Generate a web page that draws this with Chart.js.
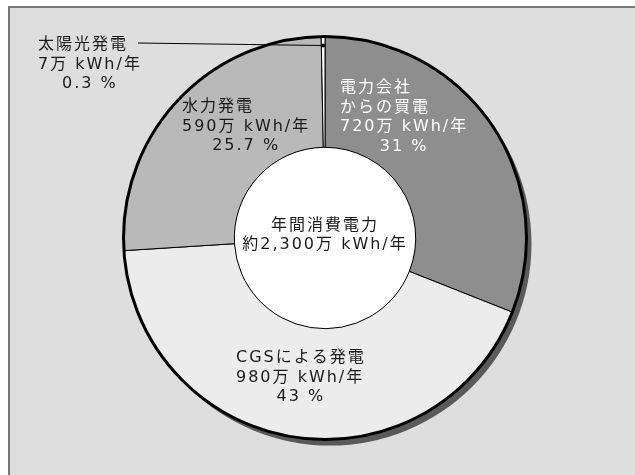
<!DOCTYPE html>
<html lang="ja">
<head>
    <meta charset="UTF-8">
    <title>年間消費電力の内訳</title>
    <style>
        body {
            margin: 0;
            background: #fff;
            overflow: hidden;
        }
        .frame {
            position: absolute;
            left: 8px;
            top: 6px;
            width: 700px;
            height: 540px;
            background: #dedede;
            border-left: 2px solid #777;
            border-top: 2px solid #777;
        }
        #chart {
            position: absolute;
            left: 0;
            top: 0;
        }
    </style>
</head>
<body>
    <div class="frame"></div>
    <canvas id="chart" width="635" height="475"></canvas>
    <script src="https://cdn.jsdelivr.net/npm/chart.js"></script>
    <script>
        // data (order = clockwise from 12 o'clock)
        const categories = ['電力会社からの買電', 'CGSによる発電', '水力発電', '太陽光発電'];
        const labelNames = [['電力会社', 'からの買電'], ['CGSによる発電'], ['水力発電'], ['太陽光発電']];
        const amounts = [720, 980, 590, 7];          // 万 kWh/年
        const percents = [31, 43, 25.7, 0.3];        // %
        const totalLines = ['年間消費電力', '約2,300万 kWh/年'];

        const sliceColors = ['#8e8e8e', '#ececec', '#b9b9b9', '#ffffff'];
        const textColors = ['#ffffff', '#1a1a1a', '#1a1a1a', '#1a1a1a'];
        // label block: left x, first line middle y (offsets from pie centre)
        const labelPos = [
            { dx: 15, dy: -150 },
            { dx: -89, dy: 120 },
            { dx: -143, dy: -131 },
            { dx: -287, dy: -193 }
        ];
        const FONT = '16px "DejaVu Sans", "Noto Sans CJK JP", sans-serif';
        const LINE_H = 19.5;

        function blockLines(i) {
            return labelNames[i].concat([amounts[i] + '万 kWh/年', percents[i] + ' %']);
        }

        const pieDecor = {
            id: 'pieDecor',
            beforeDatasetsDraw(chart) {
                const arc = chart.getDatasetMeta(0).data[0];
                const ctx = chart.ctx;
                ctx.save();
                // white centre
                ctx.fillStyle = '#ffffff';
                ctx.beginPath();
                ctx.arc(arc.x, arc.y, arc.innerRadius, 0, Math.PI * 2);
                ctx.fill();
                ctx.restore();
            },
            afterDatasetsDraw(chart) {
                const meta = chart.getDatasetMeta(0);
                const arc = meta.data[0];
                const ctx = chart.ctx;
                const cx = arc.x, cy = arc.y;
                ctx.save();
                // thick outer ring
                ctx.strokeStyle = '#000';
                ctx.lineWidth = 3;
                ctx.beginPath();
                ctx.arc(cx, cy, arc.outerRadius, 0, Math.PI * 2);
                ctx.stroke();

                // drop shadow, painted behind the ring
                ctx.globalCompositeOperation = 'destination-over';
                ctx.fillStyle = '#5a5a5a';
                ctx.beginPath();
                ctx.arc(cx + 5, cy + 6, arc.outerRadius, 0, Math.PI * 2);
                ctx.fill();
                ctx.globalCompositeOperation = 'source-over';

                ctx.font = FONT;
                ctx.letterSpacing = '2px';
                ctx.textBaseline = 'middle';

                categories.forEach((c, i) => {
                    const lines = blockLines(i);
                    const x0 = cx + labelPos[i].dx;
                    const y0 = cy + labelPos[i].dy;
                    const widths = lines.slice(0, -1).map(t => ctx.measureText(t).width);
                    const blockW = Math.max(...widths);
                    ctx.fillStyle = textColors[i];
                    lines.forEach((t, k) => {
                        const last = k === lines.length - 1;
                        ctx.textAlign = last ? 'center' : 'left';
                        ctx.fillText(t, last ? x0 + blockW / 2 : x0, y0 + k * LINE_H);
                    });
                });

                // leader line for the small solar slice
                const s = meta.data[3];
                const mid = (s.startAngle + s.endAngle) / 2;
                const px = cx + Math.cos(mid) * (arc.outerRadius - 9);
                const py = cy + Math.sin(mid) * (arc.outerRadius - 9);
                ctx.strokeStyle = '#000';
                ctx.lineWidth = 1;
                ctx.beginPath();
                ctx.moveTo(cx + labelPos[3].dx + 100, cy + labelPos[3].dy - 2);
                ctx.lineTo(px, py);
                ctx.stroke();
                ctx.fillStyle = '#000';
                ctx.beginPath();
                ctx.arc(px, py, 2, 0, Math.PI * 2);
                ctx.fill();

                // centre text
                ctx.fillStyle = '#1a1a1a';
                ctx.textAlign = 'center';
                ctx.fillText(totalLines[0], cx, cy - 12);
                ctx.fillText(totalLines[1], cx, cy + 7);
                ctx.restore();
            }
        };

        new Chart(document.getElementById('chart'), {
            type: 'doughnut',
            data: {
                labels: categories,
                datasets: [{
                    data: percents,
                    backgroundColor: sliceColors,
                    borderColor: '#000',
                    borderWidth: 1
                }]
            },
            options: {
                responsive: false,
                animation: false,
                cutout: '45%',
                layout: { padding: { top: 36, bottom: 35, left: 15, right: 0 } },
                plugins: {
                    legend: { display: false },
                    tooltip: { enabled: false }
                }
            },
            plugins: [pieDecor]
        });
    </script>
</body>
</html>
